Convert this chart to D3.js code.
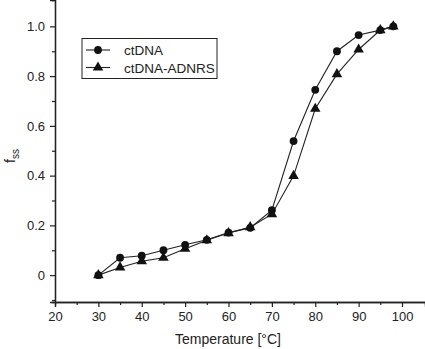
<!DOCTYPE html>
<html><head><meta charset="utf-8">
<script src="https://cdn.jsdelivr.net/npm/d3@7"></script>
<style>body{margin:0;background:#fff}svg{display:block}text{font-family:"Liberation Sans",Arial,sans-serif;fill:#222}</style>
</head><body><svg width="425" height="349"></svg>
<script>
const temps = [30,35,40,45,50,55,60,65,70,75,80,85,90,95,98];
const ctDNA = [0,0.07,0.078,0.1,0.122,0.142,0.171,0.19,0.261,0.539,0.745,0.90,0.965,0.985,1.0];
const ctDNA_ADNRS = [0,0.031,0.056,0.07,0.106,0.14,0.169,0.193,0.245,0.399,0.669,0.808,0.907,0.985,1.0];
const seriesNames = ["ctDNA","ctDNA-ADNRS"];
const xTicks = [20,30,40,50,60,70,80,90,100];
const yTicks = [0,0.2,0.4,0.6,0.8,1.0];

const svg = d3.select("svg");
const x = d3.scaleLinear().domain([20,105.3]).range([55,425]);
const y = d3.scaleLinear().domain([-0.108,1.106]).range([302,0]);
const ink = "#222";

// minor ticks
const gx = svg.append("g").attr("transform","translate(0,302)");
gx.call(d3.axisBottom(x).tickValues(d3.range(25,105,10)).tickSize(3).tickFormat(""));
gx.append("g").call(d3.axisBottom(x).tickValues(xTicks).tickSize(5).tickPadding(5).tickFormat(d=>d));
gx.selectAll("path.domain").attr("stroke",ink).attr("stroke-width",1.3);
gx.selectAll("line").attr("stroke",ink).attr("stroke-width",1.2);
gx.selectAll("text").style("font-size","13px").attr("fill",ink);

const gy = svg.append("g").attr("transform","translate(55,0)");
gy.call(d3.axisLeft(y).tickValues(d3.range(-0.1,1.05,0.2).map(v=>+v.toFixed(1))).tickSize(3).tickFormat(""));
gy.append("g").call(d3.axisLeft(y).tickValues(yTicks).tickSize(5).tickPadding(5).tickFormat(d=>d===0?"0":d3.format(".1f")(d)));
gy.selectAll("path.domain").attr("stroke",ink).attr("stroke-width",1.3);
gy.selectAll("line").attr("stroke",ink).attr("stroke-width",1.2);
gy.selectAll("text").style("font-size","13px").attr("fill",ink);

const line = d3.line().x(d=>x(d[0])).y(d=>y(d[1]));
const data = [temps.map((t,i)=>[t,ctDNA[i]]), temps.map((t,i)=>[t,ctDNA_ADNRS[i]])];
const symbols = [d3.symbolCircle, d3.symbolTriangle];
const sizes = [48,48];

data.forEach((s,k)=>{
  svg.append("path").attr("d",line(s)).attr("fill","none").attr("stroke",ink).attr("stroke-width",1.1);
});
data.forEach((s,k)=>{
  svg.append("g").selectAll("path").data(s).join("path")
    .attr("transform",d=>`translate(${x(d[0])},${y(d[1])})`)
    .attr("d",d3.symbol().type(symbols[k]).size(sizes[k])).attr("fill","#111");
});

// legend
const lg = svg.append("g");
lg.append("rect").attr("x",82).attr("y",38.5).attr("width",135).attr("height",40).attr("fill","#fff").attr("stroke",ink).attr("stroke-width",1);
seriesNames.forEach((n,k)=>{
  const yy = 50 + k*17.5;
  lg.append("line").attr("x1",86).attr("x2",110).attr("y1",yy).attr("y2",yy).attr("stroke",ink).attr("stroke-width",1.1);
  lg.append("path").attr("transform",`translate(98,${yy})`).attr("d",d3.symbol().type(symbols[k]).size(48)).attr("fill","#111");
  lg.append("text").attr("x",124).attr("y",yy+5).style("font-size","13.5px").text(n);
});

// axis titles
svg.append("text").attr("x",228).attr("y",344).attr("text-anchor","middle").style("font-size","14px").text("Temperature [°C]");
const yl = svg.append("text").attr("transform","translate(15,156) rotate(-90)").attr("text-anchor","middle").style("font-size","14px");
yl.append("tspan").text("f");
yl.append("tspan").attr("dy",4).style("font-size","10px").text("ss");
</script></body></html>
